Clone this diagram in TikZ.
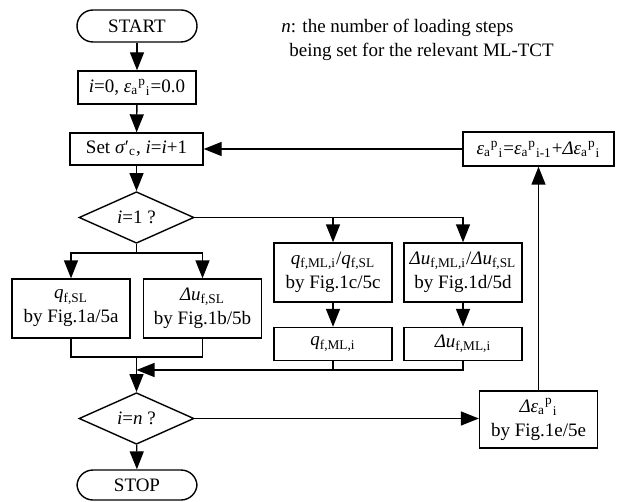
\documentclass[tikz,border=0pt]{standalone}
\usepackage{fontspec}
\setmainfont{Liberation Serif}
\usepackage{tikz}
\usetikzlibrary{arrows.meta,positioning,calc,shapes.geometric}

% plastic strain symbol with staggered indices
\newcommand{\epsap}[1]{\textit{ε}\textsubscript{a}\textsuperscript{p}\textsubscript{#1}}
\newcommand{\sub}[1]{\textsubscript{#1}}

\begin{document}
\begin{tikzpicture}[x=0.5pt, y=0.5pt, yscale=-1, >={Triangle[length=9pt,width=7pt]},
  line width=0.7pt,
  every node/.style={font=\fontsize{9.5}{12}\selectfont},
  box/.style={draw, line width=0.7pt, minimum width=59pt, minimum height=16.5pt, inner sep=1.5pt, align=center},
  tallbox/.style={box, minimum height=29.5pt},
  term/.style={box, rounded corners=8pt, minimum width=60pt, minimum height=16pt},
  test/.style={draw, diamond, line width=0.7pt, minimum width=57.5pt, minimum height=23.5pt, inner sep=0pt}]
\useasboundingbox (0,0) rectangle (620,502);

% main column
\node[term] (start) at (137,26) {START};
\node[box] (init) at (137,87.5) {\textit{i}=0, \epsap{i}=0.0};
\node[box, minimum width=66.5pt, minimum height=16pt] (setc) at (136.5,149) {Set \textit{σ}′\sub{c}, \textit{i}=\textit{i}+1};
\node[test] (first) at (136.5,217.5) {\textit{i}=1 ?};

% single-stage branch
\node[tallbox] (qsl) at (71,308.5) {\textit{q}\sub{f,SL}\\by Fig.1a/5a};
\node[tallbox] (usl) at (202.5,308.5) {\textit{Δu}\sub{f,SL}\\by Fig.1b/5b};

% multi-stage branch
\node[tallbox] (qratio) at (333,272.5) {\textit{q}\sub{f,ML,i}/\textit{q}\sub{f,SL}\\by Fig.1c/5c};
\node[tallbox] (uratio) at (463,272.5) {\textit{Δu}\sub{f,ML,i}/\textit{Δu}\sub{f,SL}\\by Fig.1d/5d};
\node[box] (qml) at (333,344) {\textit{q}\sub{f,ML,i}};
\node[box] (uml) at (463,344) {\textit{Δu}\sub{f,ML,i}};

\node[test] (last) at (136.5,418.5) {\textit{i}=\textit{n} ?};
\node[term, minimum height=15pt] (stop) at (137,485) {STOP};

% strain update
\node[tallbox, minimum height=28.5pt] (deps) at (538.5,419.5) {\textit{Δε}\sub{a}\textsuperscript{p}\sub{i}\\by Fig.1e/5e};
\node[box, minimum width=75.5pt, minimum height=17pt] (eps) at (538.5,149) {\epsap{i}=\epsap{i-1}+\textit{Δ}\epsap{i}};

\node[anchor=north west, align=left] (note) at (274,12) {\textit{n}: the number of loading steps\\\hspace*{4pt}being set for the relevant ML-TCT};

\coordinate (jl) at (136.5,357);
\coordinate (jr) at (136.5,370);

\draw[->] (start) -- (init);
\draw[->] (init) -- (setc);
\draw[->] (setc) -- (first);
\draw[->] (first.south) -- ++(0,9) -| (qsl.north);
\draw[->] (first.south) -- ++(0,9) -| (usl.north);
\draw[->] (first.east) -| (uratio.north);
\draw[->] (qratio.north |- first.east) -- (qratio.north);
\draw[->] (qratio) -- (qml);
\draw[->] (uratio) -- (uml);
\draw (qsl.south) |- (jl) -| (usl.south);
\draw (qml.south) -- (qml.south |- jr);
\draw[->] (uml.south) |- (jr);
\draw[->] (jl) -- (last.north);
\draw[->] (last) -- (stop);
\draw[->] (last.east) -- (last.east -| deps.west);
\draw[->] (deps) -- (eps);
\draw[->] (eps) -- (setc);
\end{tikzpicture}
\end{document}
